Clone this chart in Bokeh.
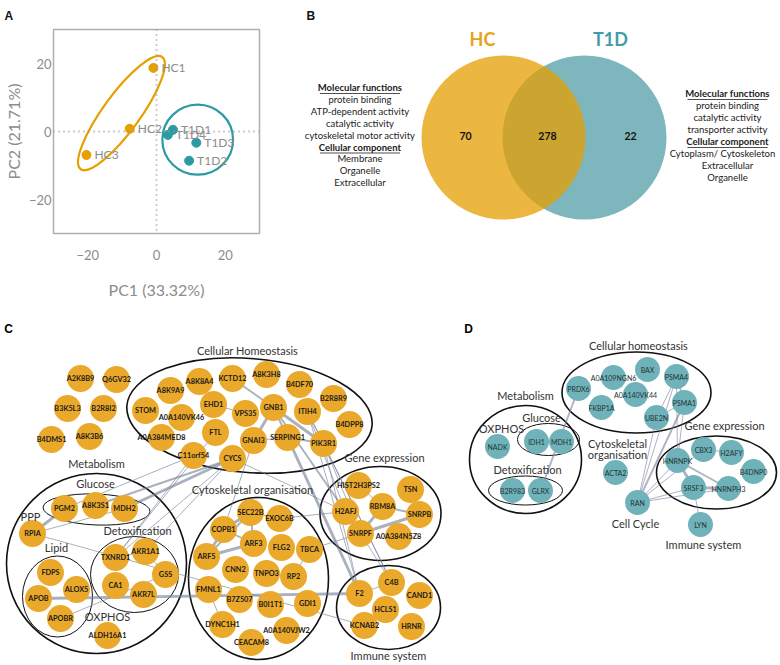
import math
from bokeh.plotting import figure
from bokeh.layouts import column, row
from bokeh.models import Span, FixedTicker
from bokeh.embed import file_html
from bokeh.resources import INLINE
from bokeh.core.properties import value

FONT = "Lato"
ORANGE = "#E69F00"
TEAL = "#2D9AA3"
GRAY = "#8c8c8c"

# ---------------- Panel A data ----------------
pca_labels = ["HC1", "HC2", "HC3", "T1D1", "T1D4", "T1D3", "T1D2"]
pca_group = ["HC", "HC", "HC", "T1D", "T1D", "T1D", "T1D"]
pc1 = [-0.9, -7.8, -20.4, 4.8, 3.3, 11.6, 9.5]
pc2 = [18.7, 0.8, -6.9, 0.5, -1.0, -3.3, -8.6]
pca_ticks = [-20, 0, 20]
ell_group = ["HC", "T1D"]
ell_x = [-10.2, 12.0]
ell_y = [5.4, -2.4]
ell_w = [40.4, 20.6]
ell_h = [10.8, 20.6]
ell_angle_deg = [54, 0]

# ---------------- Panel B data ----------------
venn_sets = ["HC", "T1D"]
venn_counts = [70, 278, 22]
left_terms = ["Molecular functions", "protein binding", "ATP-dependent activity",
              "catalytic activity", "cytoskeletal motor activity", "Cellular component",
              "Membrane", "Organelle", "Extracellular"]
left_bold = [True, False, False, False, False, True, False, False, False]
right_terms = ["Molecular functions", "protein binding", "catalytic activity",
               "transporter activity", "Cellular component", "Cytoplasm/ Cytoskeleton",
               "Extracellular", "Organelle"]
right_bold = [True, False, False, False, True, False, False, False]

# ---------------- Panel C data (network layout, px) ----------------
c_names = ["A2K8B9", "Q6GV32", "B3K5L3", "B2R8I2", "B4DMS1", "A8K3B6",
           "A8K9A9", "A8K8A4", "KCTD12", "A8K3H8", "B4DF70", "B2R8R9",
           "STOM", "A0A140VK46", "EHD1", "VPS35", "GNB1", "ITIH4", "B4DPP8",
           "A0A384MED8", "FTL", "GNAI3", "SERPING1", "PIK3R1", "C11orf54", "CYCS",
           "PGM2", "A8K3S1", "MDH2", "RPIA",
           "TXNRD1", "AKR1A1", "GSS", "CA1", "AKR7L",
           "FDPS", "ALOX5", "APOB", "APOBR", "ALDH16A1",
           "SEC22B", "EXOC6B", "COPB1", "ARF3", "FLG2", "TBCA", "ARF5", "CNN2", "TNPO3", "RP2",
           "FMNL1", "B7Z507", "B0I1T1", "GDI1", "DYNC1H1", "A0A140VJW2", "CEACAM8",
           "HIST2H3PS2", "TSN", "H2AFJ", "RBM8A", "SNRPB", "SNRPF", "A0A384N5Z8",
           "C4B", "CAND1", "F2", "HCLS1", "KCNAB2", "HRNR"]
c_x = [80, 116, 67, 103, 51, 89,
       170, 199, 232, 266, 299, 333,
       145, 181, 213, 245, 273, 307, 349,
       161, 215, 253, 287, 323, 193, 232,
       64, 95, 124, 32,
       115, 145, 165, 115, 143,
       50, 76, 38, 60, 107,
       250, 279, 223, 253, 281, 309, 206, 235, 266, 293,
       208, 239, 270, 307, 222, 286, 251,
       358, 410, 345, 382, 419, 360, 398,
       391, 419, 359, 385, 364, 411]
c_y = [378, 379, 408, 408, 439, 436,
       390, 381, 378, 374, 384, 398,
       410, 417, 404, 413, 407, 411, 424,
       437, 432, 440, 437, 443, 455, 458,
       508, 505, 508, 533,
       557, 551, 574, 585, 594,
       572, 589, 598, 618, 635,
       512, 518, 529, 543, 547, 549, 556, 569, 573, 576,
       589, 599, 604, 603, 624, 630, 642,
       485, 489, 511, 506, 514, 533, 536,
       582, 595, 593, 609, 625, 626]
c_src = ["KCTD12", "EHD1", "GNB1", "GNB1", "GNAI3", "SERPING1", "GNB1", "ITIH4", "ITIH4",
         "ITIH4", "PIK3R1", "PIK3R1", "SERPING1", "GNB1", "CYCS", "CYCS", "C11orf54", "FTL",
         "CYCS", "RPIA", "RPIA", "RPIA", "APOB", "APOBR", "TXNRD1", "AKR1A1",
         "COPB1", "COPB1", "COPB1", "SEC22B", "ARF3", "SEC22B", "SEC22B", "FMNL1", "TBCA",
         "GNAI3", "TBCA", "AKR1A1", "CYCS", "F2", "EXOC6B", "RBM8A", "RBM8A", "SNRPF",
         "HIST2H3PS2", "H2AFJ", "SNRPF", "ITIH4", "PIK3R1", "C11orf54"]
c_dst = ["GNB1", "VPS35", "GNAI3", "PIK3R1", "SERPING1", "PIK3R1", "SERPING1", "PIK3R1", "H2AFJ",
         "C4B", "SNRPF", "C4B", "F2", "H2AFJ", "MDH2", "TXNRD1", "TXNRD1", "TXNRD1",
         "A8K3S1", "PGM2", "MDH2", "KCNAB2", "F2", "GSS", "AKR1A1", "GSS",
         "SEC22B", "ARF5", "ARF3", "ARF3", "ARF5", "ARF5", "EXOC6B", "DYNC1H1", "RP2",
         "COPB1", "SNRPF", "CYCS", "H2AFJ", "C4B", "H2AFJ", "SNRPF", "SNRPB", "SNRPB",
         "RBM8A", "SNRPF", "C4B", "F2", "F2", "PGM2"]
c_wt = [2, 1, 3, 3, 1, 2, 2, 1, 1,
        1, 1, 1, 3, 2, 3, 1, 1, 1,
        2, 3, 1, 1, 3, 1, 1, 1,
        3, 3, 2, 2, 3, 2, 1, 1, 1,
        1, 1, 1, 1, 1, 1, 3, 2, 3,
        1, 1, 1, 1, 1, 1]
c_groups = ["Cellular Homeostasis", "Metabolism", "Glucose", "Detoxification", "Lipid",
            "Cytoskeletal organisation", "Gene expression", "Immune system"]
c_gx = [249, 96, 96, 134, 57, 258, 380, 388]
c_gy = [415, 563, 509, 574, 596, 578, 513, 607]
c_gw = [246, 180, 107, 88, 70, 140, 121, 104]
c_gh = [114, 180, 31, 76, 81, 162, 94, 84]
c_glw = [1.6, 1.6, 1.0, 1.0, 1.0, 1.6, 1.6, 1.6]
c_gangle = [-0.08, 0, -0.04, 0, 0, 0, 0, 0]
c_lab = ["Cellular Homeostasis", "Metabolism", "Glucose", "PPP", "Detoxification", "Lipid",
         "OXPHOS", "Cytoskeletal organisation", "Gene expression", "Immune system"]
c_lx = [247, 96, 95, 30, 137, 56, 107, 252, 384, 388]
c_ly = [350, 463, 483, 516, 530, 547, 616, 489, 457, 655]

# ---------------- Panel D data ----------------
d_names = ["PRDX6", "A0A109NGN6", "BAX", "PSMA4", "A0A140VK44", "FKBP1A", "PSMA1", "UBE2N",
           "NADK", "IDH1", "MDH1", "B2R983", "GLRX", "ACTA2",
           "HNRNPK", "CBX3", "H2AFY", "B4DNP0", "SRSF3", "HNRNPH3", "RAN", "LYN"]
d_x = [578, 613, 647, 676, 635, 601, 684, 656,
       497, 536, 561, 512, 540, 615,
       677, 703, 731, 753, 693, 728, 637, 700]
d_y = [388, 377, 369, 376, 394, 407, 402, 417,
       446, 441, 441, 490, 490, 472,
       460, 449, 452, 471, 487, 488, 502, 524]
d_src = ["PRDX6", "IDH1", "PSMA4", "PSMA4", "PSMA1", "RAN", "RAN", "RAN", "RAN", "RAN", "RAN",
         "HNRNPK", "HNRNPK", "SRSF3", "CBX3", "SRSF3", "HNRNPK", "HNRNPK", "RAN"]
d_dst = ["GLRX", "MDH1", "PSMA1", "UBE2N", "UBE2N", "PSMA4", "PSMA1", "UBE2N", "HNRNPK", "SRSF3", "CBX3",
         "SRSF3", "HNRNPH3", "HNRNPH3", "H2AFY", "LYN", "PSMA4", "PSMA1", "HNRNPH3"]
d_wt = [2, 2, 2, 1, 1, 1, 2, 1, 1, 1, 1,
        3, 2, 3, 1, 1, 1, 1, 1]
d_groups = ["Cellular homeostasis", "Metabolism", "Glucose", "Detoxification", "Gene expression"]
d_gx = [636, 525, 548, 525, 716]
d_gy = [392, 459, 439, 490, 472]
d_gw = [149, 112, 62, 74, 120]
d_gh = [81, 108, 32, 29, 73]
d_glw = [1.6, 1.6, 1.0, 1.0, 1.6]
d_lab = ["Cellular homeostasis", "Metabolism", "Glucose", "OXPHOS", "Detoxification",
         "Cytoskeletal", "organisation", "Gene expression", "Cell Cycle", "Immune system"]
d_lx = [638, 525, 541, 501, 527, 617, 617, 724, 635, 703]
d_ly = [345, 395, 417, 428, 469, 443, 454, 425, 523, 544]

WMAP = {1: 1.0, 2: 1.9, 3: 2.9}
TOP, BOTTOM = 29, 77   # shared frame borders of the top row


def blank(p):
    p.xgrid.visible = False
    p.ygrid.visible = False
    p.outline_line_color = None


def panel_title(p, letter, offset):
    p.title.text = letter
    p.title.align = "left"
    p.title.vertical_align = "top"
    p.title.offset = offset
    p.title.standoff = 9
    p.title.text_font = "Liberation Sans"
    p.title.text_font_style = "bold"
    p.title.text_font_size = "12px"
    p.title.text_color = "#111111"


# ================= Panel A =================
pA = figure(width=280, height=310, x_range=(-30, 30), y_range=(-30, 30),
            output_backend="svg", toolbar_location=None,
            min_border_left=53, min_border_right=21, min_border_top=TOP, min_border_bottom=BOTTOM)
pA.xgrid.visible = False
pA.ygrid.visible = False
pA.outline_line_color = "#b0b0b0"
pA.outline_line_width = 1.5
for ax in (pA.xaxis[0], pA.yaxis[0]):
    ax.ticker = FixedTicker(ticks=pca_ticks)
    ax.axis_line_color = None
    ax.major_tick_line_color = None
    ax.minor_tick_line_color = None
    ax.major_tick_out = 0
    ax.major_tick_in = 0
    ax.minor_tick_out = 0
    ax.minor_tick_in = 0
    ax.major_label_text_color = GRAY
    ax.major_label_text_font = FONT
    ax.major_label_text_font_size = "13px"
    ax.axis_label_text_color = GRAY
    ax.axis_label_text_font = FONT
    ax.axis_label_text_font_size = "16px"
    ax.axis_label_text_font_style = "normal"
pA.xaxis.axis_label = "PC1 (33.32%)"
pA.yaxis.axis_label = "PC2 (21.71%)"
pA.xaxis.major_label_standoff = 16
pA.xaxis.axis_label_standoff = 17
pA.yaxis.major_label_standoff = 2
pA.yaxis.axis_label_standoff = 3
pA.add_layout(Span(location=0, dimension="height", line_color="#999999",
                   line_dash="1 4", line_width=2))
pA.add_layout(Span(location=0, dimension="width", line_color="#999999",
                   line_dash="1 4", line_width=2))
ecol = [ORANGE if g == "HC" else TEAL for g in ell_group]
pA.ellipse(x=ell_x, y=ell_y, width=ell_w, height=ell_h,
           angle=[math.radians(a) for a in ell_angle_deg],
           fill_color=None, line_color=ecol, line_width=2.2)
pcol = [ORANGE if g == "HC" else TEAL for g in pca_group]
pA.scatter(x=pc1, y=pc2, size=9, fill_color=pcol, line_color=pcol)
pA.text(x=pc1, y=pc2, text=pca_labels, x_offset=8, text_baseline="middle",
        text_font=value(FONT), text_font_size="12px", text_color=GRAY)
panel_title(pA, "A", -49)

# ================= Panel B =================
pB = figure(width=500, height=310, x_range=(280, 780), y_range=(310 - BOTTOM, TOP),
            output_backend="svg", toolbar_location=None,
            min_border_left=0, min_border_right=0, min_border_top=TOP, min_border_bottom=BOTTOM,
            x_axis_location=None, y_axis_location=None)
blank(pB)
panel_title(pB, "B", 26)
vx = [503, 584]
pB.circle(x=[vx[1]], y=[137], radius=82, fill_color="#7EB6BE", line_color=None)
pB.circle(x=[vx[0]], y=[137], radius=82, fill_color=ORANGE, fill_alpha=0.75, line_color=None)
pB.text(x=[482, 610], y=[38, 38], text=venn_sets, text_align="center", text_baseline="middle",
        text_font=value(FONT), text_font_style="bold", text_font_size="18px",
        text_color=["#E8A21A", "#3E9EA7"])
pB.text(x=[465, 547, 630], y=[135, 135, 135], text=[str(v) for v in venn_counts],
        text_align="center", text_baseline="middle", text_font=value(FONT),
        text_font_style="bold", text_font_size="10.5px", text_color="#111111")


def term_block(p, terms, bold, cxs, y0, step, ul_w):
    ys = [y0 + step * i for i in range(len(terms))]
    tn = [t for t, b in zip(terms, bold) if not b]
    xn = [x for x, b in zip(cxs, bold) if not b]
    yn = [y for y, b in zip(ys, bold) if not b]
    tb = [t for t, b in zip(terms, bold) if b]
    xb = [x for x, b in zip(cxs, bold) if b]
    yb = [y for y, b in zip(ys, bold) if b]
    p.text(x=xn, y=yn, text=tn, text_align="center", text_baseline="middle",
           text_font=value(FONT), text_font_size="9.5px", text_color="#222222")
    p.text(x=xb, y=yb, text=tb, text_align="center", text_baseline="middle",
           text_font=value(FONT), text_font_style="bold", text_font_size="9.5px",
           text_color="#222222")
    p.segment(x0=[x - ul_w / 2 for x in xb], x1=[x + ul_w / 2 for x in xb],
              y0=[y + 6 for y in yb], y1=[y + 6 for y in yb], line_color="#222222", line_width=0.8)


term_block(pB, left_terms, left_bold, [359.5] * len(left_terms), 87, 11.9, 80)
right_cx = [727] * len(right_terms)
right_cx[5] = 722
term_block(pB, right_terms, right_bold, right_cx, 93, 12.0, 80)

# ================= Panels C & D =================
pC = figure(width=780, height=355, x_range=(0, 780), y_range=(665, 310),
            output_backend="svg", toolbar_location=None, min_border=0,
            x_axis_location=None, y_axis_location=None)
blank(pC)

c_pos = {n: (x, y) for n, x, y in zip(c_names, c_x, c_y)}
d_pos = {n: (x, y) for n, x, y in zip(d_names, d_x, d_y)}

pC.ellipse(x=c_gx, y=c_gy, width=c_gw, height=c_gh, angle=c_gangle,
           fill_color=None, line_color="#111111", line_width=c_glw)
pC.ellipse(x=d_gx, y=d_gy, width=d_gw, height=d_gh,
           fill_color=None, line_color="#111111", line_width=d_glw)

cxs = [[c_pos[a][0], c_pos[b][0]] for a, b in zip(c_src, c_dst)]
cys = [[c_pos[a][1], c_pos[b][1]] for a, b in zip(c_src, c_dst)]
pC.multi_line(xs=cxs, ys=cys, line_width=[WMAP[w] for w in c_wt],
              line_color="#6F7C92", line_alpha=0.6)
dxs = [[d_pos[a][0], d_pos[b][0]] for a, b in zip(d_src, d_dst)]
dys = [[d_pos[a][1], d_pos[b][1]] for a, b in zip(d_src, d_dst)]
pC.multi_line(xs=dxs, ys=dys, line_width=[WMAP[w] for w in d_wt],
              line_color="#7A7F9A", line_alpha=0.6)

pC.scatter(x=c_x, y=c_y, size=27, fill_color="#EAA92A", line_color=None)
pC.text(x=c_x, y=c_y, text=c_names, text_align="center", text_baseline="middle",
        text_font=value(FONT), text_font_style="bold", text_font_size="7.3px",
        text_color="#1a1a1a")
pC.scatter(x=d_x, y=d_y, size=25, fill_color="#6FB2B9", line_color=None)
pC.text(x=d_x, y=d_y, text=d_names, text_align="center", text_baseline="middle",
        text_font=value(FONT), text_font_size="7px", text_color="#233333")

pC.text(x=c_lx, y=c_ly, text=c_lab, text_align="center", text_baseline="middle",
        text_font=value(FONT), text_font_size="11px", text_color="#333333")
pC.text(x=d_lx, y=d_ly, text=d_lab, text_align="center", text_baseline="middle",
        text_font=value(FONT), text_font_size="11px", text_color="#333333")

pC.text(x=[8, 468], y=[328, 328], text=["C", "D"], text_align="center", text_baseline="middle",
        text_font=value("Liberation Sans"), text_font_style="bold", text_font_size="12px")

layout = column(row(pA, pB, spacing=0), pC, spacing=0)
open("out.html", "w").write(file_html(layout, INLINE))
